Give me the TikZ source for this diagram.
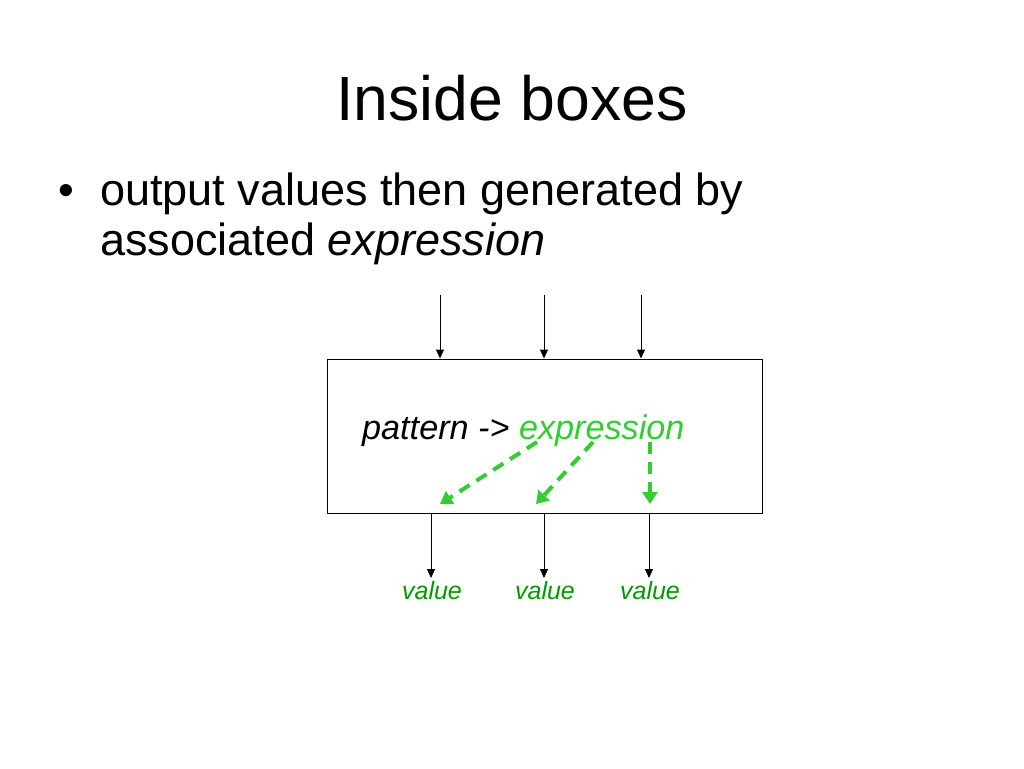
\documentclass[tikz,border=0pt]{standalone}
\usepackage{fontspec}
\setmainfont{Liberation Sans}
\usetikzlibrary{arrows.meta}
\definecolor{lgreen}{RGB}{51,204,51}
\definecolor{dgreen}{RGB}{0,153,0}
\begin{document}
\begin{tikzpicture}[x=1pt,y=-1pt,
  inarrow/.style={draw=black,line width=1pt,-{Triangle[width=8pt,length=9pt]}},
  garrow/.style={draw=lgreen,line width=4pt,dash pattern=on 12pt off 8pt,-{Triangle[width=15pt,length=12pt]}},
  valtxt/.style={font=\fontsize{25}{30}\selectfont\itshape,text=dgreen,inner sep=0pt,anchor=base}]
\useasboundingbox[fill=white] (0,0) rectangle (1024,768);
\node[anchor=base,inner sep=0pt,font=\fontsize{62.5}{75}\selectfont] (title) at (512,120) {Inside boxes};
\node[anchor=base west,inner sep=0pt,font=\fontsize{45}{54}\selectfont] (bul) at (58,205) {•};
\node[anchor=base west,inner sep=0pt,font=\fontsize{45}{54}\selectfont] (l1) at (100,205) {output values then generated by};
\node[anchor=base west,inner sep=0pt,font=\fontsize{45}{54}\selectfont] (l2) at (100,255) {associated \textit{expression}};
\node[draw=black,line width=1pt,minimum width=435pt,minimum height=154pt,inner sep=0pt] (box) at (544.5,436) {};
\node[anchor=base west,inner sep=0pt,font=\fontsize{34.2}{40}\selectfont\itshape] (pat) at (362,439) {pattern -> \textcolor{lgreen}{expression}};
\coordinate (i1) at (440,295);
\coordinate (i2) at (544,295);
\coordinate (i3) at (641,295);
\draw[inarrow] (i1) -- (i1 |- box.north);
\draw[inarrow] (i2) -- (i2 |- box.north);
\draw[inarrow] (i3) -- (i3 |- box.north);
\node[valtxt] (v1) at (432,599) {value};
\node[valtxt] (v2) at (545,599) {value};
\node[valtxt] (v3) at (650,599) {value};
\draw[inarrow] (v1.north |- box.south) ++(-1,0) coordinate (o1) -- (o1 |- 0,578);
\draw[inarrow] (v2.north |- box.south) ++(-1,0) coordinate (o2) -- (o2 |- 0,578);
\draw[inarrow] (v3.north |- box.south) ++(-1,0) coordinate (o3) -- (o3 |- 0,578);
\coordinate (g1s) at (537,442);
\coordinate (g1e) at (440,504);
\coordinate (g2s) at (593,442);
\coordinate (g2e) at (536,504);
\coordinate (g3s) at (650,442);
\coordinate (g3e) at (650,504);
\draw[garrow] (g1s) -- (g1e);
\draw[garrow] (g2s) -- (g2e);
\draw[garrow] (g3s) -- (g3e);
\end{tikzpicture}
\end{document}
